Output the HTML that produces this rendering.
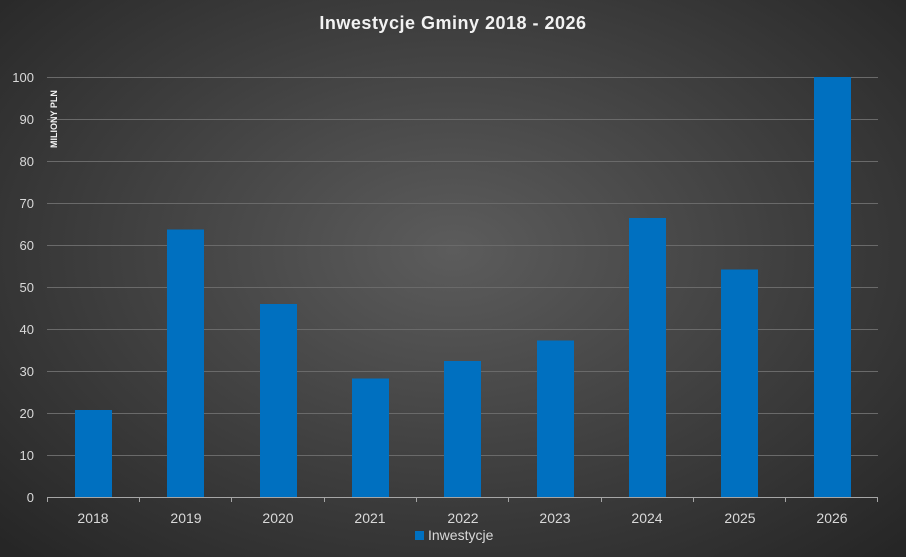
<!DOCTYPE html>
<html><head><style>
html,body{margin:0;padding:0;}
body{width:906px;height:557px;overflow:hidden;background:radial-gradient(ellipse 70% 75% at 50% 45%,#5c5c5c 0%,#3e3e3e 55%,#262626 100%);font-family:"Liberation Sans",sans-serif;}
</style></head><body>
<svg width="906" height="557" xmlns="http://www.w3.org/2000/svg" style="position:absolute;left:0;top:0">
<text x="453" y="29" text-anchor="middle" font-size="18" font-weight="bold" fill="#f2f2f2" font-family="Liberation Sans, sans-serif" letter-spacing="0.5">Inwestycje Gminy 2018 - 2026</text>
<g stroke="#6a6a6a" stroke-width="1">
<line x1="47" x2="878" y1="77.5" y2="77.5"/><line x1="47" x2="878" y1="119.5" y2="119.5"/><line x1="47" x2="878" y1="161.5" y2="161.5"/><line x1="47" x2="878" y1="203.5" y2="203.5"/><line x1="47" x2="878" y1="245.5" y2="245.5"/><line x1="47" x2="878" y1="287.5" y2="287.5"/><line x1="47" x2="878" y1="329.5" y2="329.5"/><line x1="47" x2="878" y1="371.5" y2="371.5"/><line x1="47" x2="878" y1="413.5" y2="413.5"/><line x1="47" x2="878" y1="455.5" y2="455.5"/>
</g>
<g fill="#d9d9d9" font-size="13" text-anchor="end" font-family="Liberation Sans, sans-serif">
<text x="34" y="82">100</text><text x="34" y="124">90</text><text x="34" y="166">80</text><text x="34" y="208">70</text><text x="34" y="250">60</text><text x="34" y="292">50</text><text x="34" y="334">40</text><text x="34" y="376">30</text><text x="34" y="418">20</text><text x="34" y="460">10</text><text x="34" y="502">0</text>
</g>
<text transform="translate(57,148) rotate(-90)" font-size="9" font-weight="bold" fill="#f2f2f2" font-family="Liberation Sans, sans-serif">MILIONY PLN</text>
<g fill="#0070c0">
<rect x="75" y="410" width="37" height="87"/>
<rect x="167" y="229.5" width="37" height="267.5"/>
<rect x="260" y="304" width="37" height="193"/>
<rect x="352" y="378.5" width="37" height="118.5"/>
<rect x="444" y="361" width="37" height="136"/>
<rect x="537" y="340.5" width="37" height="156.5"/>
<rect x="629" y="218" width="37" height="279"/>
<rect x="721" y="269.5" width="37" height="227.5"/>
<rect x="814" y="77" width="37" height="420"/>
</g>
<g stroke="#a6a6a6" stroke-width="1">
<line x1="47" x2="878" y1="497.5" y2="497.5"/>
<line x1="47.5" x2="47.5" y1="497" y2="502"/><line x1="139.5" x2="139.5" y1="497" y2="502"/><line x1="231.5" x2="231.5" y1="497" y2="502"/><line x1="324.5" x2="324.5" y1="497" y2="502"/><line x1="416.5" x2="416.5" y1="497" y2="502"/><line x1="508.5" x2="508.5" y1="497" y2="502"/><line x1="601.5" x2="601.5" y1="497" y2="502"/><line x1="693.5" x2="693.5" y1="497" y2="502"/><line x1="785.5" x2="785.5" y1="497" y2="502"/><line x1="877.5" x2="877.5" y1="497" y2="502"/>
</g>
<g fill="#d9d9d9" font-size="14" text-anchor="middle" font-family="Liberation Sans, sans-serif">
<text x="93" y="523">2018</text><text x="186" y="523">2019</text><text x="278" y="523">2020</text><text x="370" y="523">2021</text><text x="463" y="523">2022</text><text x="555" y="523">2023</text><text x="647" y="523">2024</text><text x="740" y="523">2025</text><text x="832" y="523">2026</text>
</g>
<rect x="415" y="531" width="9" height="9" fill="#0070c0"/>
<text x="428" y="540" font-size="14" fill="#d9d9d9" font-family="Liberation Sans, sans-serif">Inwestycje</text>
</svg>
</body></html>
